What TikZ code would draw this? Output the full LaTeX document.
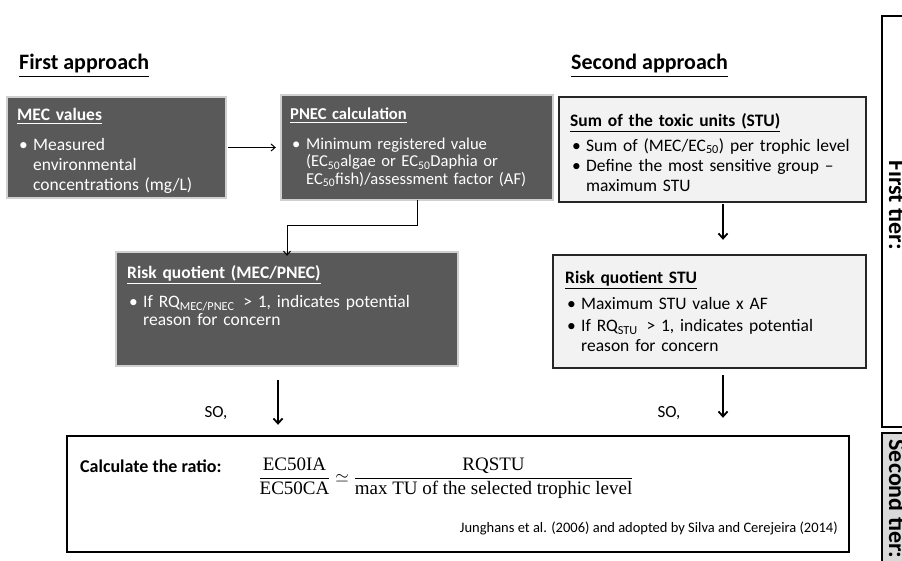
\documentclass[tikz,border=0pt]{standalone}
\usepackage{fontspec}
\setmainfont{Carlito}
\newfontfamily\formfont{Liberation Serif}
\usepackage{amsmath}
\usetikzlibrary{arrows.meta}
\hyphenpenalty=10000
\exhyphenpenalty=10000
\newlength\bulind
\setlength\bulind{16pt}
\newcommand{\bitem}[1]{\par\noindent\hangindent=\bulind\hangafter=1\makebox[\bulind][l]{\hspace{2pt}\textbullet}#1\par}
\newcommand{\boxhead}[2][8pt]{\noindent\textbf{\underline{#2}}\par\vspace{#1}}
\definecolor{darkfill}{HTML}{595959}
\definecolor{darkedge}{HTML}{D0D0D0}
\definecolor{lightfill}{HTML}{F2F2F2}
\definecolor{tierfill}{HTML}{D9D9D9}
\tikzset{
  darkbox/.style={draw=darkedge, line width=1.5pt, fill=darkfill},
  lightbox/.style={draw=black!85, line width=1.5pt, fill=lightfill},
  whitebox/.style={draw=black, line width=1.5pt, fill=white},
  boxtext/.style={anchor=north west, inner sep=0pt, text width=320pt, font=\fontsize{17.5}{20}\selectfont},
  title/.style={font=\fontsize{22}{25}\selectfont\bfseries},
  thinarrow/.style={line width=1pt, -{Straight Barb[length=4pt,width=7pt]}},
  thickarrow/.style={line width=1.8pt, -{Straight Barb[length=5pt,width=9pt]}},
  sotext/.style={font=\fontsize{17}{20}\selectfont},
  tiertext/.style={font=\fontsize{24}{27}\selectfont\bfseries, rotate=-90, anchor=base},
}
\begin{document}
\begin{tikzpicture}[x=1pt, y=-1pt]
\clip (0,0) rectangle (902,560);
\fill[white] (0,0) rectangle (902,560);

% titles
\node[title, anchor=west, inner sep=0] (t1) at (19,66) {\underline{First approach}};
\node[title, anchor=west, inner sep=0] (t2) at (571,66) {\underline{Second approach}};

% boxes
\path[darkbox] (7,97) rectangle (226,198);
\node[inner sep=0, minimum width=219pt, minimum height=101pt] (mec) at (116.5,147.5) {};
\path[darkbox] (281,95) rectangle (553,200);
\node[inner sep=0, minimum width=272pt, minimum height=105pt] (pnec) at (417,147.5) {};
\path[lightbox] (559,97) rectangle (866,202);
\node[inner sep=0, minimum width=307pt, minimum height=105pt] (stu) at (712.5,149.5) {};
\path[darkbox] (116,252) rectangle (458,366);
\node[inner sep=0, minimum width=342pt, minimum height=114pt] (risk) at (287,309) {};
\path[lightbox] (553,255) rectangle (866,368);
\node[inner sep=0, minimum width=313pt, minimum height=113pt] (riskstu) at (709.5,311.5) {};
\path[whitebox] (67,436) rectangle (849,552);
\node[inner sep=0, minimum width=782pt, minimum height=116pt] (ratio) at (458,494) {};

% box texts
\node[boxtext, text=white] (mect) at (17,108) {\raggedright
  \boxhead[10pt]{MEC values}
  \bitem{Measured\newline environmental\newline concentrations (mg/L)}};
\node[boxtext, text=white, font=\fontsize{16.6}{17.5}\selectfont] (pnect) at (290,108) {\raggedright
  \boxhead[12pt]{PNEC calculation}
  \bitem{Minimum registered value\newline (EC\textsubscript{50}algae or EC\textsubscript{50}Daphia or\newline EC\textsubscript{50}fish)/assessment factor (AF)}};
\node[boxtext] (stut) at (570,113) {\raggedright
  \boxhead[5pt]{Sum of the toxic units (STU)}
  \bitem{Sum of (MEC/EC\textsubscript{50}) per trophic level}
  \bitem{Define the most sensitive group --\newline maximum STU}};
\node[boxtext, text=white, font=\fontsize{17.5}{18}\selectfont] (riskt) at (127,265) {\raggedright
  \boxhead[10pt]{Risk quotient (MEC/PNEC)}
  \bitem{If RQ\textsubscript{MEC/PNEC} \,> 1, indicates potential\newline reason for concern}};
\node[boxtext, font=\fontsize{17.5}{20}\selectfont] (riskstut) at (565,271) {\raggedright
  \boxhead[6pt]{Risk quotient STU}
  \bitem{Maximum STU value x AF}\vspace{2pt}
  \bitem{If RQ\textsubscript{STU} \,> 1, indicates potential\newline reason for concern}};

% bottom box contents
\node[anchor=west, inner sep=0, font=\fontsize{18}{21}\selectfont\bfseries] (calc) at (80,466) {Calculate the ratio:};
\node[inner sep=0, font=\formfont\fontsize{19}{22}\selectfont] (formula) at (446,478)
  {$\dfrac{\text{EC50IA}}{\text{EC50CA}} \simeq \dfrac{\text{RQSTU}}{\text{max TU of the selected trophic level}}$};
\node[anchor=east, inner sep=0, font=\fontsize{14.5}{17}\selectfont] (cite) at (838,528)
  {Junghans et al. (2006) and adopted by Silva and Cerejeira (2014)};

% SO, labels
\node[sotext] (so1) at (216,413) {SO,};
\node[sotext] (so2) at (669,413) {SO,};

% connectors
\draw[thinarrow, shorten <=2pt, shorten >=5pt] (mec) -- (pnec);
\coordinate (k1) at (417,225);
\coordinate (k2) at (287,225);
\draw[thinarrow] (pnec.south -| k1) -- (k1) -- (k2) -- ([yshift=-4pt]k2 |- risk.north);
\coordinate (a1) at (278,0);
\coordinate (a2) at (723,0);
\draw[thickarrow, shorten <=14pt, shorten >=11pt] (risk.south -| a1) -- (ratio.north -| a1);
\draw[thickarrow, shorten <=2pt, shorten >=17pt] (stu.south -| a2) -- ([yshift=-2pt]riskstu.north -| a2);
\draw[thickarrow, shorten <=7pt, shorten >=18pt] (riskstu.south -| a2) -- (ratio.north -| a2);

% tiers
\path[draw=black, line width=1.8pt, fill=white] (882,16) rectangle (930,427);
\node[inner sep=0, minimum width=48pt, minimum height=411pt] (tier1) at (906,221.5) {};
\path[draw=black, line width=1.8pt, fill=tierfill] (882,433) rectangle (930,600);
\node[inner sep=0, minimum width=48pt, minimum height=167pt] (tier2) at (906,516.5) {};
\node[tiertext] (tier1t) at (889,205) {First tier:};
\node[tiertext] (tier2t) at (889,499) {Second tier:};
\end{tikzpicture}
\end{document}
